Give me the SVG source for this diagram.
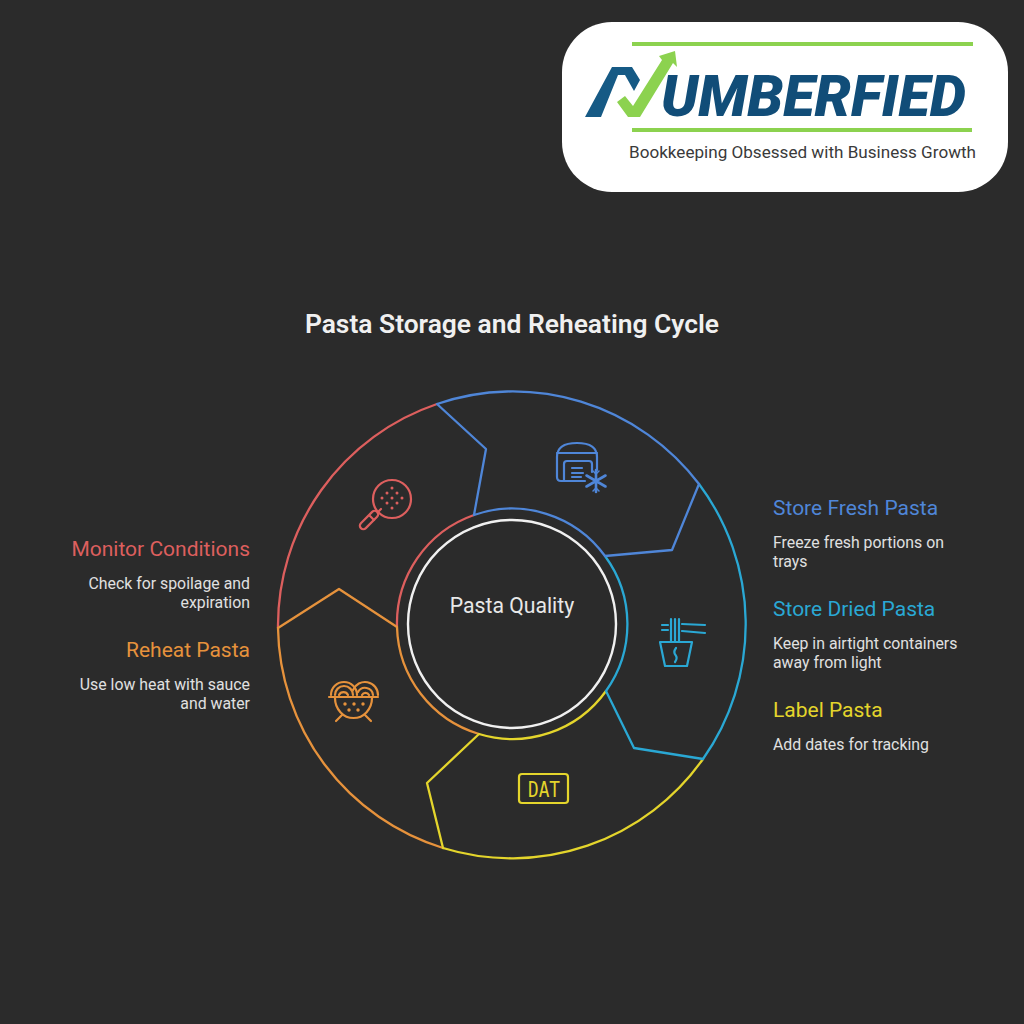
<svg xmlns="http://www.w3.org/2000/svg" width="1024" height="1024" viewBox="0 0 1024 1024">
<style>
text{font-family:Roboto,"Liberation Sans",sans-serif}
.seg,.ic{fill:none;stroke-width:2.3;stroke-linejoin:round;stroke-linecap:round}
.ic{stroke-width:2.2}
.h{font-size:21px}
.d{font-size:15.85px;fill:#e0e0e0}
.e{text-anchor:end}
.mono{font-family:"DejaVu Sans Mono",monospace}
.blue{stroke:#4f86d8}.cyan{stroke:#2aa8d4}.yellow{stroke:#e4d52c}.orange{stroke:#e6923c}.red{stroke:#dd5f5e}
</style>
<rect width="1024" height="1024" fill="#2b2b2b"/>
<g id="logo">
<rect x="562" y="22" width="446" height="170" rx="50" fill="#fff"/>
<rect x="632" y="42" width="341" height="4" fill="#8cd24f"/>
<rect x="632" y="128" width="340" height="4" fill="#8cd24f"/>
<polygon points="585,117 612,67 632,67 640,80 634,91 625,75 618,75 601,117" fill="#165a85"/>
<polygon points="617,102 625,96 633,106 662,60 659,56 675,51 677,67 673,63 640,117 628,117" fill="#8cd24f"/>
<text x="661" y="116" font-size="58" font-weight="900" font-style="italic" fill="#114d78" textLength="305" lengthAdjust="spacingAndGlyphs">UMBERFIED</text>
<text x="629" y="158" font-size="16.800" fill="#3a3a3a" textLength="347" lengthAdjust="spacingAndGlyphs">Bookkeeping Obsessed with Business Growth</text>
</g>
<text id="title" x="512" y="333" font-size="26.400" font-weight="600" fill="#f0f0f0" text-anchor="middle">Pasta Storage and Reheating Cycle</text>
<g id="connectors">
<path class="seg red" d="M474 515A115 115 0 0 0 397 627M278 628A234 234 0 0 1 437 404"/>
<path class="seg orange" d="M278 628L339 589L397 627A115 115 0 0 0 479 734M443 848A234 234 0 0 1 278 628"/>
<path class="seg yellow" d="M443 848L427 783L479 734A115 115 0 0 0 606 691M703 759A234 234 0 0 1 443 848"/>
<path class="seg cyan" d="M703 759L634 748L606 691A115 115 0 0 0 605 556M699 484A234 234 0 0 1 703 759"/>
<path class="seg blue" d="M699 484L672 550L605 556A115 115 0 0 0 474 515L486 449L437 404A234 234 0 0 1 699 484"/>
</g>
<g id="center">
<circle cx="512" cy="624" r="104" fill="none" stroke="#f0f0f0" stroke-width="2.400"/>
<text x="512" y="613" font-size="21.200" fill="#e8e8e8" text-anchor="middle">Pasta Quality</text>
</g>
<g id="store-fresh">
<g class="ic blue">
<path d="M585 481H561Q557 481 557 477V457Q557 443 577 443Q597 443 597 457V470"/>
<path d="M557 453H597"/>
<path d="M564 481V464Q564 461 567 461H589Q592 461 592 464V472"/>
<path d="M572 468H582M572 473H583M572 477H581"/>
<path d="M596 470V492M586.500 475.500L605.500 486.500M605.500 475.500L586.500 486.500" stroke-width="2.600"/>
<path d="M593 471L596 474L599 471M593 491L596 488L599 491" stroke-width="1.500"/>
</g>
<text class="h" x="773" y="515" fill="#4f86d8">Store Fresh Pasta</text>
<text class="d" x="773" y="548">Freeze fresh portions on</text>
<text class="d" x="773" y="567">trays</text>
</g>
<g id="store-dried">
<g class="ic cyan">
<path d="M660 642H692L687 666H665Z"/>
<path d="M671 642V619M675 642V619M679 642V619"/>
<path d="M662 625H668M662 630H668M682 624L705 625M682 631L705 633"/>
<path d="M676 648Q673 652 675.500 655Q678 658 675 662"/>
</g>
<text class="h" x="773" y="616" fill="#2aa8d4">Store Dried Pasta</text>
<text class="d" x="773" y="649">Keep in airtight containers</text>
<text class="d" x="773" y="668">away from light</text>
</g>
<g id="label">
<rect class="ic yellow" x="519" y="774" width="49" height="29" rx="3"/>
<text class="mono" x="528" y="797" font-size="21" fill="#e4d52c" textLength="32" lengthAdjust="spacingAndGlyphs">DAT</text>
<text class="h" x="773" y="717" fill="#e4d52c">Label Pasta</text>
<text class="d" x="773" y="750">Add dates for tracking</text>
</g>
<g id="reheat">
<g class="ic orange">
<path d="M329 697H378"/>
<path d="M331 695A13 13 0 0 1 357 695M335 695A9 9 0 0 1 353 695M339 695A5 5 0 0 1 348 695"/>
<path d="M353 690A13 13 0 0 1 378 695M358 692A8 8 0 0 1 373 695M362 695A4 4 0 0 1 369 695"/>
<path d="M335 698A18.500 20 0 0 0 372 698"/>
<path d="M342 715L336 721M365 715L371 721"/>
</g>
<g fill="#e6923c"><circle cx="345" cy="704" r="1.700"/><circle cx="354" cy="704" r="1.700"/><circle cx="363" cy="704" r="1.700"/><circle cx="349" cy="710" r="1.700"/><circle cx="358" cy="710" r="1.700"/></g>
<text class="h e" x="250" y="657" fill="#e6923c">Reheat Pasta</text>
<text class="d e" x="250" y="690">Use low heat with sauce</text>
<text class="d e" x="250" y="709">and water</text>
</g>
<g id="monitor">
<g class="ic red">
<circle cx="392" cy="499" r="19"/>
<rect x="357.500" y="516.500" width="23" height="7" rx="3.500" transform="rotate(-45 369 520)"/>
<path d="M370 516L374 520M378 512L381 509"/>
</g>
<g fill="#dd5f5e"><circle cx="392" cy="488" r="1.500"/><circle cx="387" cy="493" r="1.500"/><circle cx="397" cy="493" r="1.500"/><circle cx="382" cy="498" r="1.500"/><circle cx="392" cy="498" r="1.500"/><circle cx="402" cy="498" r="1.500"/><circle cx="387" cy="503" r="1.500"/><circle cx="397" cy="503" r="1.500"/><circle cx="392" cy="508" r="1.500"/></g>
<text class="h e" x="250" y="556" fill="#dd5f5e">Monitor Conditions</text>
<text class="d e" x="250" y="589">Check for spoilage and</text>
<text class="d e" x="250" y="608">expiration</text>
</g>
</svg>
